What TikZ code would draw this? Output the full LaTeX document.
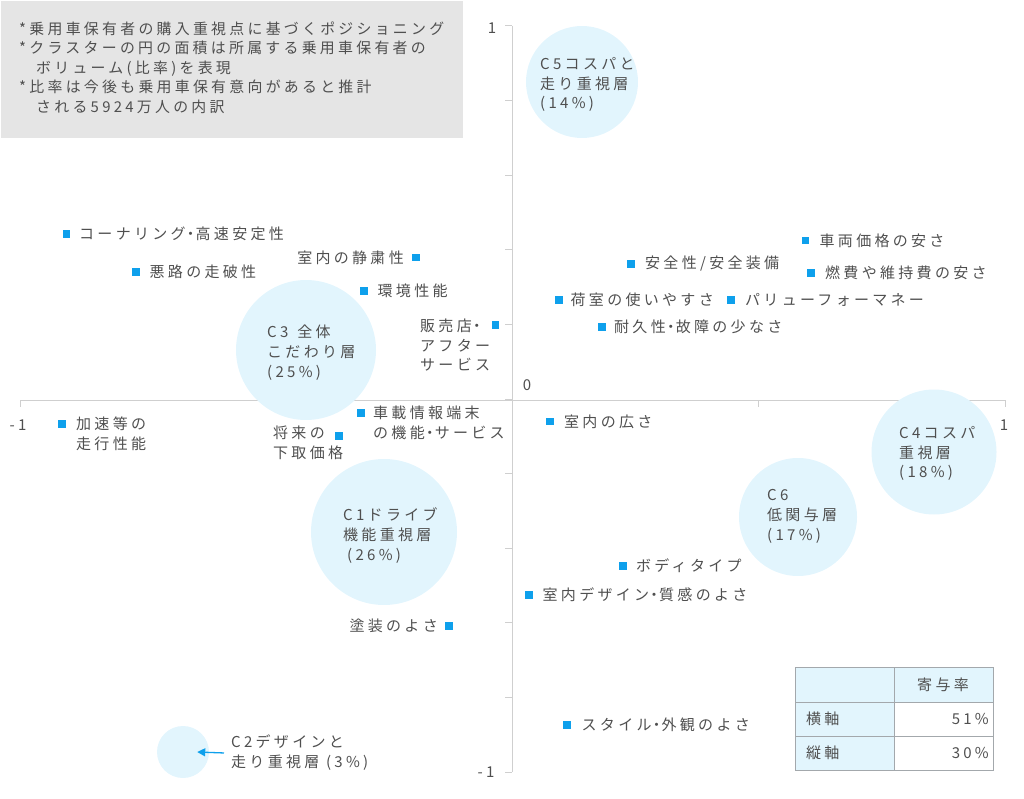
\documentclass[tikz,border=0pt]{standalone}
\usepackage{fontspec}
\setmainfont{Noto Sans CJK JP}[LetterSpace=22]
\usetikzlibrary{arrows.meta}
\definecolor{txt}{HTML}{4F4F4F}
\definecolor{dot}{HTML}{0EA0EC}
\definecolor{bubc}{HTML}{E2F5FD}
\definecolor{axc}{HTML}{CFCFCF}
\definecolor{boxg}{HTML}{E5E5E5}
\definecolor{tblc}{HTML}{A3A8AC}
\newcommand{\nkg}{\kern-2.5pt・\kern-2.5pt}
\begin{document}
\begin{tikzpicture}[x=1pt,y=-1pt,
  lbl/.style={font=\fontsize{15}{19.8}\selectfont, text=txt, inner sep=0pt, align=left},
  sq/.style={rectangle, fill=dot, minimum size=7.7pt, inner sep=0pt},
  bub/.style={circle, fill=bubc, inner sep=0pt},
  ax/.style={draw=axc, line width=1pt},
  tbl/.style={draw=tblc, line width=1pt},
  arr/.style={draw=dot, line width=1.3pt, -{Triangle[length=8pt,width=8pt]}}]
\useasboundingbox (0,0) rectangle (1024,799);
% note box
\fill[boxg] (1,1) rectangle (463,138);
\node[lbl, anchor=north west, font=\fontsize{14.9}{19.5}\selectfont] (note) at (19,21.5) {*乗用車保有者の購入重視点に基づくポジショニング\\*クラスターの円の面積は所属する乗用車保有者の\\\hspace*{17pt}ボリューム(比率)を表現\\*比率は今後も乗用車保有意向があると推計\\\hspace*{17pt}される5924万人の内訳};
% axes
\draw[ax] (20,400) -- (1005,400);
\foreach \xx in {20,266,758,1005} \draw[ax] (\xx,400) -- (\xx,407);
\draw[ax] (512,26) -- (512,772);
\foreach \k in {0,...,10} \draw[ax] (505,26+74.6*\k) -- (512,26+74.6*\k);
\node[lbl] (ytop) at (492,28) {1};
\node[lbl] (ybot) at (486,772) {-1};
\node[lbl] (zero) at (527,385) {0};
\node[lbl] (xleft) at (18,425) {-1};
\node[lbl] (xright) at (1004,425) {1};
% bubbles
\node[bub, minimum size=112pt] (c5) at (582,82) {};
\node[bub, minimum size=140pt] (c3) at (306,350) {};
\node[bub, minimum size=146pt] (c1) at (384,532) {};
\node[bub, minimum size=118pt] (c6) at (798,517) {};
\node[bub, minimum size=125pt] (c4) at (934,452) {};
\node[bub, minimum size=52pt] (c2) at (183,752) {};
\node[lbl, anchor=north west] (c5l) at (540,57) {C5コスパと\\走り重視層\\(14\%)};
\node[lbl, anchor=north west] (c3l) at (267,325) {C3\hspace*{9pt}全体\\こだわり層\\(25\%)};
\node[lbl, anchor=north west] (c1l) at (343,507.5) {C1ドライブ\\機能重視層\\\hspace*{4pt}(26\%)};
\node[lbl, anchor=north west] (c6l) at (767,489.5) {C6\\低関与層\\(17\%)};
\node[lbl, anchor=north west] (c4l) at (899,426) {C4コスパ\\重視層\\(18\%)};
\node[lbl, anchor=north west] (c2l) at (231,735) {C2デザインと\\走り重視層 (3\%)};
\draw[arr] ([xshift=-7pt]c2l.west) -- ([xshift=-12pt]c2.east);
% points with labels on the right
\node[sq] (p1) at (66.5,234) {};
\node[lbl, anchor=west] (t1) at ([xshift=12.5pt]p1.center) {コーナリング\nkg 高速安定性};
\node[sq] (p2) at (136,272) {};
\node[lbl, anchor=west] (t2) at ([xshift=13.5pt]p2.center) {悪路の走破性};
\node[sq] (p3) at (364,291) {};
\node[lbl, anchor=west] (t3) at ([xshift=13.5pt]p3.center) {環境性能};
\node[sq] (p4) at (805.5,240.5) {};
\node[lbl, anchor=west] (t4) at ([xshift=14pt]p4.center) {車両価格の安さ};
\node[sq] (p5) at (631,264) {};
\node[lbl, anchor=west] (t5) at ([xshift=14pt]p5.center) {安全性/安全装備};
\node[sq] (p6) at (811,273) {};
\node[lbl, anchor=west] (t6) at ([xshift=14pt]p6.center) {燃費や維持費の安さ};
\node[sq] (p7) at (559,300) {};
\node[lbl, anchor=west] (t7) at ([xshift=11.5pt]p7.center) {荷室の使いやすさ};
\node[sq] (p8) at (731,300) {};
\node[lbl, anchor=west] (t8) at ([xshift=14pt]p8.center) {パリューフォーマネー};
\node[sq] (p9) at (602,327) {};
\node[lbl, anchor=west] (t9) at ([xshift=12pt]p9.center) {耐久性\nkg 故障の少なさ};
\node[sq] (p10) at (62,424) {};
\node[lbl, anchor=north west] (t10) at ([xshift=14pt,yshift=7.5pt]p10.center) {加速等の\\走行性能};
\node[sq] (p11) at (361,413) {};
\node[lbl, anchor=north west] (t11) at ([xshift=12pt,yshift=7.5pt]p11.center) {車載情報端末\\の機能\nkg サービス};
\node[sq] (p12) at (550,421.5) {};
\node[lbl, anchor=west] (t12) at ([xshift=14pt]p12.center) {室内の広さ};
\node[sq] (p13) at (623,566) {};
\node[lbl, anchor=west] (t13) at ([xshift=13pt]p13.center) {ボディタイプ};
\node[sq] (p14) at (529,595) {};
\node[lbl, anchor=west] (t14) at ([xshift=13.5pt]p14.center) {室内デザイン\nkg 質感のよさ};
\node[sq] (p15) at (567,725) {};
\node[lbl, anchor=west] (t15) at ([xshift=14.5pt]p15.center) {スタイル\nkg 外観のよさ};
% points with labels on the left
\node[sq] (p16) at (416,257.5) {};
\node[lbl, anchor=east] (t16) at ([xshift=-12pt]p16.center) {室内の静粛性};
\node[sq] (p17) at (495.5,325) {};
\node[lbl, anchor=north west] (t17) at (420,318.5) {販売店\nkg\\アフター\\サービス};
\node[sq] (p18) at (339,436) {};
\node[lbl, anchor=north west] (t18) at (273,425.5) {将来の\\下取価格};
\node[sq] (p19) at (449,626) {};
\node[lbl, anchor=east] (t19) at ([xshift=-11pt]p19.center) {塗装のよさ};
% table
\fill[bubc] (795,667) rectangle (993,702);
\fill[bubc] (795,702) rectangle (894,770);
\draw[tbl] (795,667) rectangle (993,770);
\draw[tbl] (894,667) -- (894,770);
\draw[tbl] (795,702) -- (993,702);
\draw[tbl] (795,736) -- (993,736);
\node[lbl] (th) at (943,685) {寄与率};
\node[lbl, anchor=west] (r1) at (806,719) {横軸};
\node[lbl, anchor=east] (v1) at (989,719) {51\%};
\node[lbl, anchor=west] (r2) at (806,753) {縦軸};
\node[lbl, anchor=east] (v2) at (989,753) {30\%};
\end{tikzpicture}
\end{document}
